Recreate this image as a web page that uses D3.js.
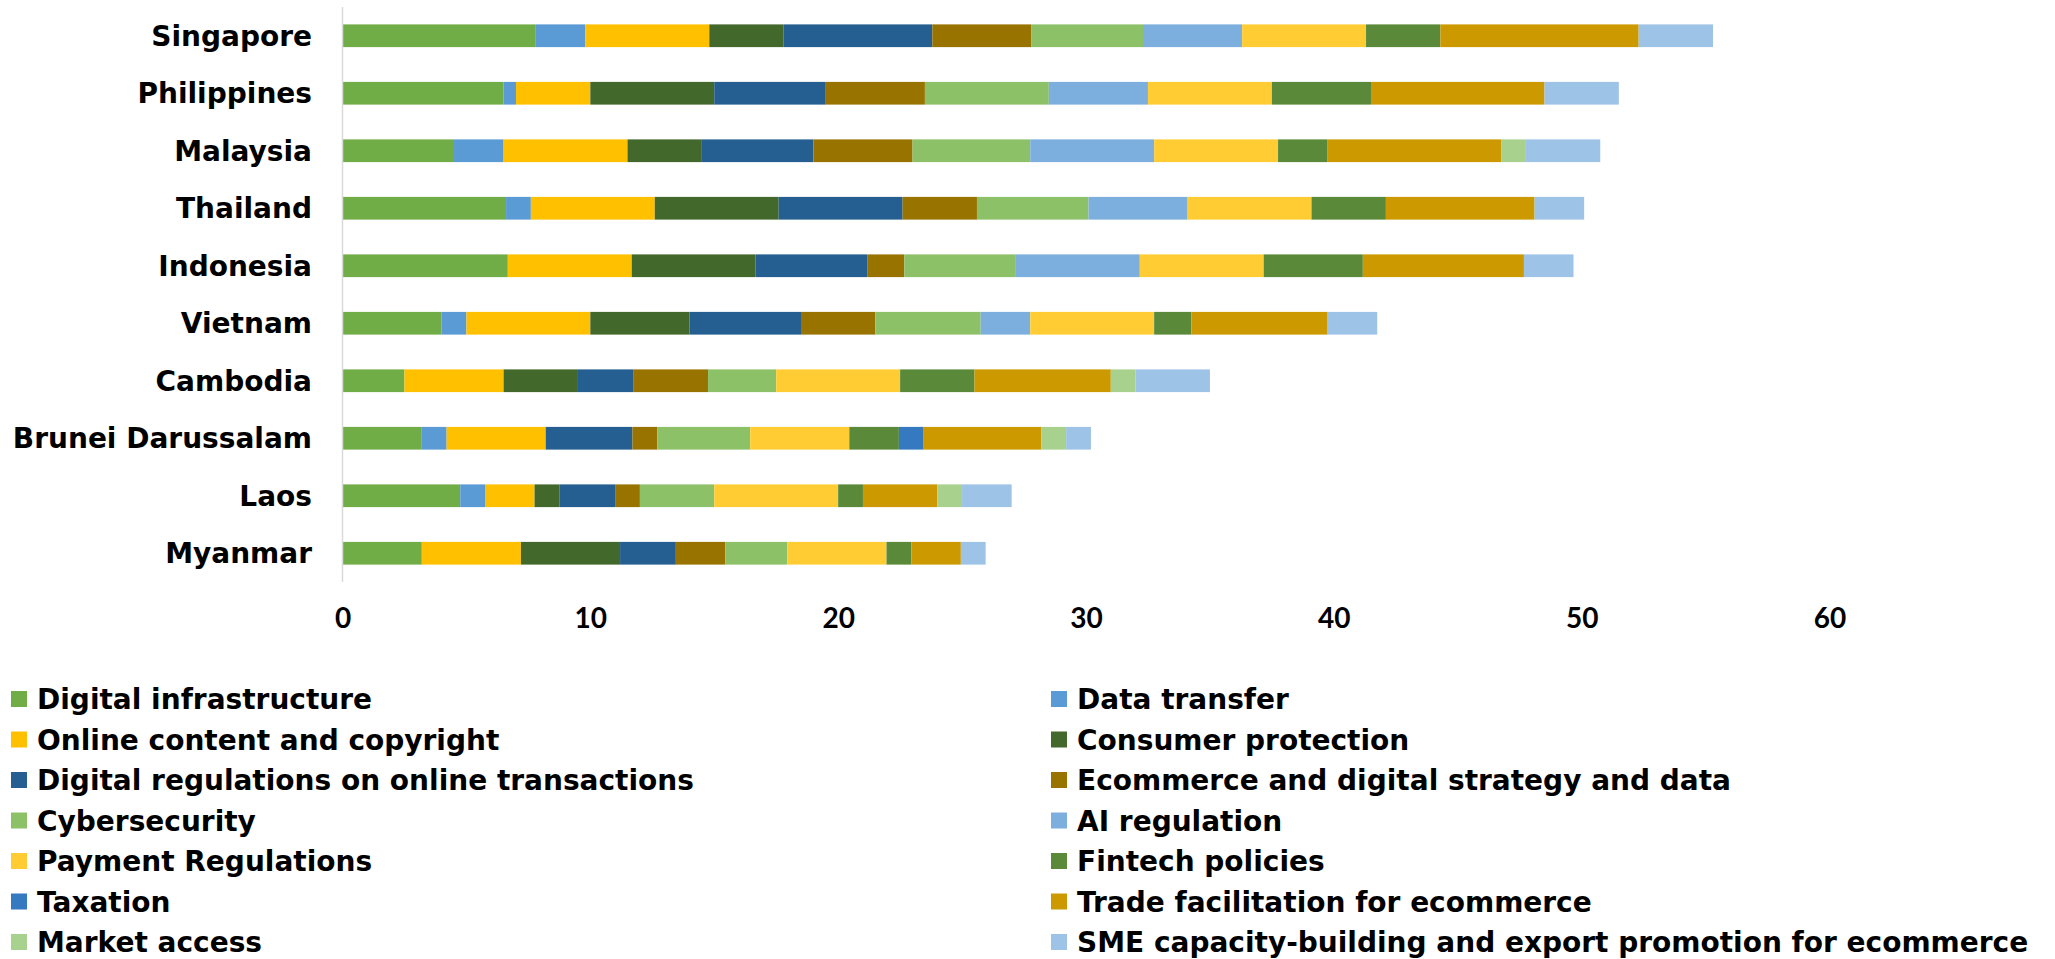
<!DOCTYPE html>
<html>
<head>
<meta charset="utf-8">
<script src="https://cdn.jsdelivr.net/npm/d3@7"></script>
<style>
  html, body { margin: 0; padding: 0; background: #fff; }
  svg { display: block; font-family: "DejaVu Sans", sans-serif; font-weight: 700; }
</style>
</head>
<body>
<svg id="chart" width="2055" height="959"></svg>
<script>
// Countries, top to bottom
const countries = ["Singapore", "Philippines", "Malaysia", "Thailand", "Indonesia",
  "Vietnam", "Cambodia", "Brunei Darussalam", "Laos", "Myanmar"];

// Policy areas, in stacking order
const policyAreas = [
  "Digital infrastructure", "Data transfer", "Online content and copyright",
  "Consumer protection", "Digital regulations on online transactions",
  "Ecommerce and digital strategy and data", "Cybersecurity", "AI regulation",
  "Payment Regulations", "Fintech policies", "Taxation",
  "Trade facilitation for ecommerce", "Market access",
  "SME capacity-building and export promotion for ecommerce"
];

const areaColors = ["#70AD47", "#5B9BD5", "#FFC000", "#43682B", "#255E91", "#997300",
  "#8CC168", "#7CAFDD", "#FFCD33", "#5A8A39", "#3579C1", "#CC9A00", "#A9D18E", "#9DC3E6"];

// Scores per country, one value per policy area (same order as policyAreas)
const singapore   = [7.8, 2.0, 5.0, 3.0, 6.0, 4.0, 4.5, 4.0, 5.0, 3.0, 0, 8.0, 0, 3.0];
const philippines = [6.5, 0.5, 3.0, 5.0, 4.5, 4.0, 5.0, 4.0, 5.0, 4.0, 0, 7.0, 0, 3.0];
const malaysia    = [4.5, 2.0, 5.0, 3.0, 4.5, 4.0, 4.75, 5.0, 5.0, 2.0, 0, 7.0, 1.0, 3.0];
const thailand    = [6.6, 1.0, 5.0, 5.0, 5.0, 3.0, 4.5, 4.0, 5.0, 3.0, 0, 6.0, 0, 2.0];
const indonesia   = [6.67, 0, 5.0, 5.0, 4.5, 1.5, 4.5, 5.0, 5.0, 4.0, 0, 6.5, 0, 2.0];
const vietnam     = [4.0, 1.0, 5.0, 4.0, 4.5, 3.0, 4.25, 2.0, 5.0, 1.5, 0, 5.5, 0, 2.0];
const cambodia    = [2.5, 0, 4.0, 3.0, 2.25, 3.0, 2.75, 0, 5.0, 3.0, 0, 5.5, 1.0, 3.0];
const brunei      = [3.2, 1.0, 4.0, 0, 3.5, 1.0, 3.75, 0, 4.0, 2.0, 1.0, 4.75, 1.0, 1.0];
const laos        = [4.75, 1.0, 2.0, 1.0, 2.25, 1.0, 3.0, 0, 5.0, 1.0, 0, 3.0, 1.0, 2.0];
const myanmar     = [3.2, 0, 4.0, 4.0, 2.25, 2.0, 2.5, 0, 4.0, 1.0, 0, 2.0, 0, 1.0];

const xTicks = [0, 10, 20, 30, 40, 50, 60];

const scoreRows = [singapore, philippines, malaysia, thailand, indonesia,
  vietnam, cambodia, brunei, laos, myanmar];

// Build a table the stack layout can read
const table = countries.map((c, i) => {
  const row = { country: c };
  policyAreas.forEach((a, j) => { row[a] = scoreRows[i][j]; });
  return row;
});

const svg = d3.select("#chart");

const x = d3.scaleLinear().domain([0, 60]).range([342.5, 1829.5]);
const y = d3.scaleBand().domain(countries).range([7, 582])
  .paddingInner(0.605).paddingOuter(0.3025);
const color = d3.scaleOrdinal().domain(policyAreas).range(areaColors);

const stacked = d3.stack().keys(policyAreas)(table);

// Stacked bars
svg.append("g")
  .selectAll("g")
  .data(stacked)
  .join("g")
    .attr("fill", d => color(d.key))
  .selectAll("rect")
  .data(d => d)
  .join("rect")
    .attr("x", d => x(d[0]))
    .attr("y", d => y(d.data.country))
    .attr("width", d => Math.max(0, x(d[1]) - x(d[0])))
    .attr("height", y.bandwidth());

// Vertical category axis line
svg.append("line")
  .attr("x1", x(0)).attr("x2", x(0))
  .attr("y1", 7).attr("y2", 582)
  .attr("stroke", "#D9D9D9").attr("stroke-width", 1.5);

// Category labels
svg.append("g")
  .selectAll("text")
  .data(countries)
  .join("text")
    .attr("x", 312)
    .attr("y", d => y(d) + y.bandwidth() / 2)
    .attr("dy", "0.36em")
    .attr("text-anchor", "end")
    .attr("font-size", 28)
    .attr("fill", "#000")
    .text(d => d);

// Value axis, without domain line or tick marks
const xAxis = svg.append("g")
  .attr("transform", "translate(0,608)")
  .call(d3.axisBottom(x).tickValues(xTicks).tickSize(0).tickPadding(0).tickFormat(d3.format("d")));
xAxis.select(".domain").remove();
xAxis.selectAll("text")
  .attr("font-family", "Lato, 'DejaVu Sans', sans-serif")
  .attr("font-weight", 700)
  .attr("font-size", 28)
  .attr("fill", "#000")
  .attr("dy", "0.71em");

// Legend in two columns, filled row by row
const legend = svg.append("g");
const legendItems = legend.selectAll("g")
  .data(policyAreas)
  .join("g")
    .attr("transform", (d, i) => {
      const col = i % 2, row = Math.floor(i / 2);
      return `translate(${col === 0 ? 11 : 1051},${699 + row * 40.5})`;
    });
legendItems.append("rect")
  .attr("x", 0).attr("y", -8)
  .attr("width", 16).attr("height", 16)
  .attr("fill", d => color(d));
legendItems.append("text")
  .attr("x", 26)
  .attr("y", 0)
  .attr("dy", "0.36em")
  .attr("font-size", 28)
  .attr("fill", "#000")
  .text(d => d);
</script>
</body>
</html>
